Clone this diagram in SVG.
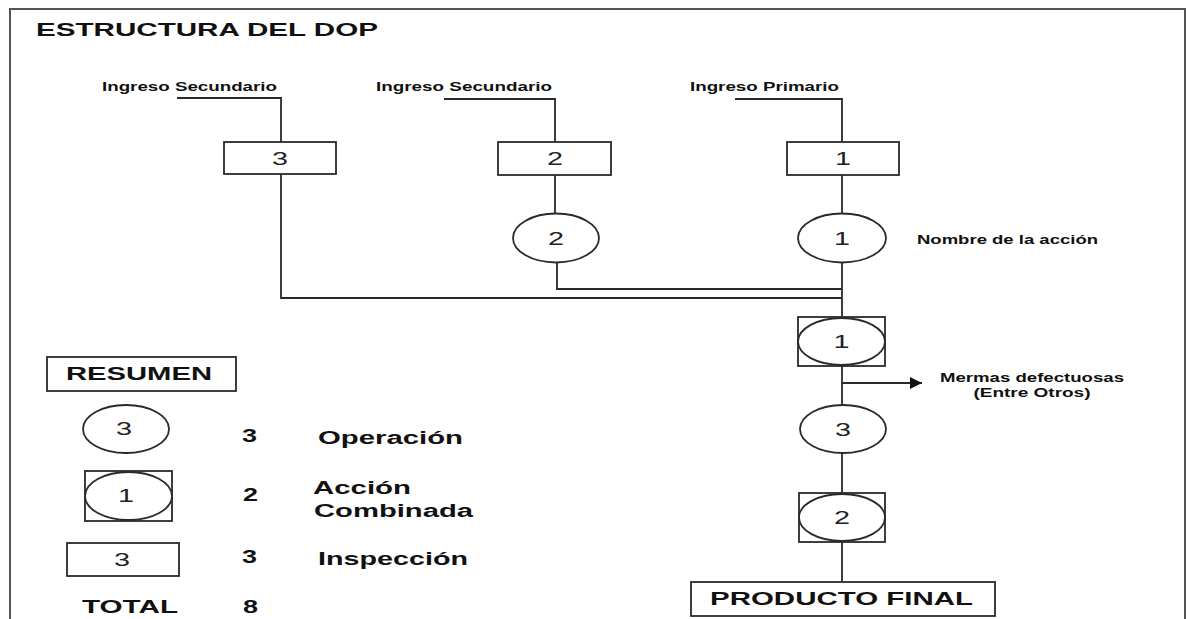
<svg xmlns="http://www.w3.org/2000/svg" width="1186" height="619" viewBox="0 0 1186 619">
  <style>
    .frame { fill: none; stroke: #555; stroke-width: 2; }
    .shape { fill: #fff; stroke: #2a2a2a; stroke-width: 1.8; }
    .line { fill: none; stroke: #2a2a2a; stroke-width: 1.8; }
    .lbl { font-family: "Liberation Sans", Arial, sans-serif; font-weight: bold; fill: #111; }
    .num { font-family: "Liberation Sans", Arial, sans-serif; font-size: 18px; fill: #222; text-anchor: middle; }
    .small { font-size: 12px; }
    .big { font-size: 19px; }
    .mid { font-size: 18px; }
  </style>
  <defs>
    <marker id="arrow" viewBox="0 0 10 10" refX="10" refY="5" markerWidth="16" markerHeight="12" markerUnits="userSpaceOnUse" orient="auto">
      <path d="M0,0 L10,5 L0,10 Z" fill="#111"/>
    </marker>
  </defs>

  <rect width="1186" height="619" fill="#fff"/>
  <rect class="frame" x="10" y="9" width="1175" height="630"/>

  <text class="lbl big" x="36" y="36" textLength="342" lengthAdjust="spacingAndGlyphs">ESTRUCTURA DEL DOP</text>

  <!-- connectors -->
  <g id="connectors">
    <path class="line" d="M177,98 H281 V142"/>
    <path class="line" d="M281,174 V298 H842"/>
    <path class="line" d="M444,99 H555 V142"/>
    <path class="line" d="M555,175 V213"/>
    <path class="line" d="M557,262 V289 H842"/>
    <path class="line" d="M735,99 H842 V142"/>
    <path class="line" d="M842,175 V213"/>
    <path class="line" d="M842,262 V317"/>
    <path class="line" d="M842,366 V405"/>
    <path class="line" d="M842,383 H922" marker-end="url(#arrow)"/>
    <path class="line" d="M842,453 V493"/>
    <path class="line" d="M842,542 V582"/>
  </g>

  <!-- input labels -->
  <text class="lbl small" x="102" y="91" textLength="175" lengthAdjust="spacingAndGlyphs">Ingreso Secundario</text>
  <text class="lbl small" x="376" y="91" textLength="176" lengthAdjust="spacingAndGlyphs">Ingreso Secundario</text>
  <text class="lbl small" x="690" y="91" textLength="149" lengthAdjust="spacingAndGlyphs">Ingreso Primario</text>

  <!-- inspections -->
  <g id="insp3">
    <rect class="shape" x="224" y="142" width="112" height="32"/>
    <text class="num" x="280" y="165" textLength="16" lengthAdjust="spacingAndGlyphs">3</text>
  </g>
  <g id="insp2">
    <rect class="shape" x="498" y="142" width="113" height="33"/>
    <text class="num" x="555" y="165" textLength="16" lengthAdjust="spacingAndGlyphs">2</text>
  </g>
  <g id="insp1">
    <rect class="shape" x="787" y="142" width="112" height="33"/>
    <text class="num" x="843" y="165" textLength="16" lengthAdjust="spacingAndGlyphs">1</text>
  </g>

  <!-- operations -->
  <g id="op2">
    <ellipse class="shape" cx="556" cy="238" rx="43" ry="24.5"/>
    <text class="num" x="556" y="245" textLength="16" lengthAdjust="spacingAndGlyphs">2</text>
  </g>
  <g id="op1">
    <ellipse class="shape" cx="842" cy="238" rx="44" ry="24.5"/>
    <text class="num" x="842" y="245" textLength="16" lengthAdjust="spacingAndGlyphs">1</text>
  </g>
  <text class="lbl small" x="917" y="244" textLength="181" lengthAdjust="spacingAndGlyphs">Nombre de la acción</text>

  <!-- combined action 1 -->
  <g id="comb1">
    <rect class="shape" x="798" y="317" width="87" height="49"/>
    <ellipse class="shape" cx="841.5" cy="341.5" rx="43.5" ry="23.5"/>
    <text class="num" x="841.5" y="348" textLength="16" lengthAdjust="spacingAndGlyphs">1</text>
  </g>

  <g id="waste">
    <text class="lbl small" x="1032" y="382" text-anchor="middle" textLength="184" lengthAdjust="spacingAndGlyphs">Mermas defectuosas</text>
    <text class="lbl small" x="1032" y="397" text-anchor="middle" textLength="117" lengthAdjust="spacingAndGlyphs">(Entre Otros)</text>
  </g>

  <g id="op3">
    <ellipse class="shape" cx="843" cy="429" rx="43" ry="24"/>
    <text class="num" x="843" y="436" textLength="16" lengthAdjust="spacingAndGlyphs">3</text>
  </g>

  <g id="comb2">
    <rect class="shape" x="799" y="493" width="86" height="49"/>
    <ellipse class="shape" cx="842" cy="517.5" rx="43" ry="23.5"/>
    <text class="num" x="842" y="524" textLength="16" lengthAdjust="spacingAndGlyphs">2</text>
  </g>

  <g id="final">
    <rect class="shape" x="691" y="582" width="304" height="34"/>
    <text class="lbl mid" x="710" y="605" textLength="263" lengthAdjust="spacingAndGlyphs">PRODUCTO FINAL</text>
  </g>

  <!-- summary -->
  <g id="summary">
    <rect class="shape" x="47" y="357" width="189" height="34"/>
    <text class="lbl big" x="66" y="380" textLength="146" lengthAdjust="spacingAndGlyphs">RESUMEN</text>

    <ellipse class="shape" cx="126" cy="429" rx="43" ry="24"/>
    <text class="num" x="124" y="435" textLength="16" lengthAdjust="spacingAndGlyphs">3</text>
    <text class="lbl mid" x="242" y="442" textLength="15" lengthAdjust="spacingAndGlyphs">3</text>
    <text class="lbl mid" x="318" y="444" textLength="145" lengthAdjust="spacingAndGlyphs">Operación</text>

    <rect class="shape" x="85" y="471" width="87" height="50"/>
    <ellipse class="shape" cx="128.5" cy="496" rx="43.5" ry="24"/>
    <text class="num" x="126" y="502" textLength="16" lengthAdjust="spacingAndGlyphs">1</text>
    <text class="lbl mid" x="243" y="501" textLength="15" lengthAdjust="spacingAndGlyphs">2</text>
    <text class="lbl mid" x="313" y="494" textLength="98" lengthAdjust="spacingAndGlyphs">Acción</text>
    <text class="lbl mid" x="314" y="517" textLength="159" lengthAdjust="spacingAndGlyphs">Combinada</text>

    <rect class="shape" x="67" y="543" width="112" height="33"/>
    <text class="num" x="122" y="566" textLength="16" lengthAdjust="spacingAndGlyphs">3</text>
    <text class="lbl mid" x="242" y="563" textLength="15" lengthAdjust="spacingAndGlyphs">3</text>
    <text class="lbl mid" x="318" y="565" textLength="150" lengthAdjust="spacingAndGlyphs">Inspección</text>

    <text class="lbl mid" x="82" y="613" textLength="96" lengthAdjust="spacingAndGlyphs">TOTAL</text>
    <text class="lbl mid" x="243" y="613" textLength="15" lengthAdjust="spacingAndGlyphs">8</text>
  </g>
</svg>
